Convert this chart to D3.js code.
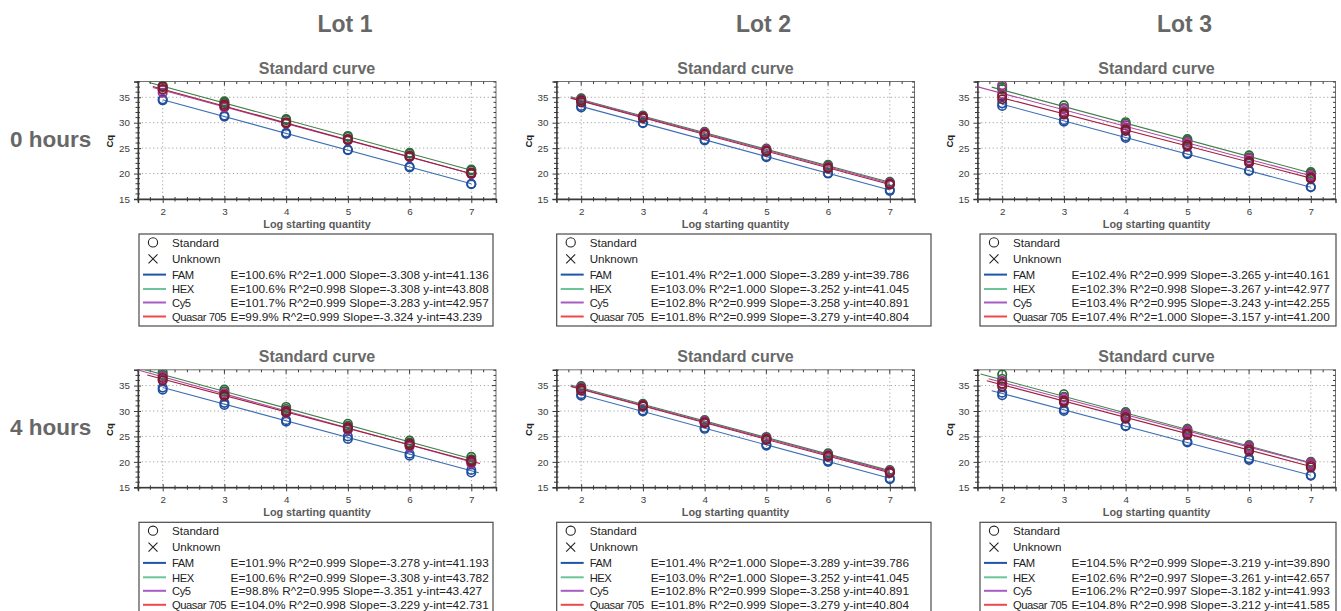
<!DOCTYPE html>
<html><head><meta charset="utf-8">
<script src="https://cdn.jsdelivr.net/npm/d3@7"></script>
<style>
html,body{margin:0;padding:0;background:#fff;}
svg{display:block;font-family:"Liberation Sans",Arial,sans-serif;}
</style></head>
<body>
<svg id="chart" width="1341" height="611"></svg>
<script>
// ---------- DATA ----------
const lots = ["Lot 1", "Lot 2", "Lot 3"];
const timepoints = ["0 hours", "4 hours"];
const dyes = ["FAM", "HEX", "Cy5", "Quasar 705"];
const logQty = [2, 3, 4, 5, 6, 7];
const xTicks = [2, 3, 4, 5, 6, 7];
const yTicks = [15, 20, 25, 30, 35];
// panel order: 0h Lot1, 0h Lot2, 0h Lot3, 4h Lot1, 4h Lot2, 4h Lot3
const efficiency = [
  ["100.6", "100.6", "101.7", "99.9"],
  ["101.4", "103.0", "102.8", "101.8"],
  ["102.4", "102.3", "103.4", "107.4"],
  ["101.9", "100.6", "98.8", "104.0"],
  ["101.4", "103.0", "102.8", "101.8"],
  ["104.5", "102.6", "106.2", "104.8"]
];
const rSquared = [
  ["1.000", "0.998", "0.999", "0.999"],
  ["1.000", "1.000", "0.999", "0.999"],
  ["0.999", "0.998", "0.995", "1.000"],
  ["0.999", "0.999", "0.995", "0.998"],
  ["1.000", "1.000", "0.999", "0.999"],
  ["0.999", "0.997", "0.997", "0.998"]
];
const slopes = [
  [-3.308, -3.308, -3.283, -3.324],
  [-3.289, -3.252, -3.258, -3.279],
  [-3.265, -3.267, -3.243, -3.157],
  [-3.278, -3.308, -3.351, -3.229],
  [-3.289, -3.252, -3.258, -3.279],
  [-3.219, -3.261, -3.182, -3.212]
];
const intercepts = [
  [41.136, 43.808, 42.957, 43.239],
  [39.786, 41.045, 40.891, 40.804],
  [40.161, 42.977, 42.255, 41.200],
  [41.193, 43.782, 43.427, 42.731],
  [39.786, 41.045, 40.891, 40.804],
  [39.890, 42.657, 41.993, 41.585]
];
// x-range over which each fitted line is drawn
const fitFrom = [
  [2, 1.78, 1.84, 1.84],
  [2, 1.83, 1.83, 1.83],
  [2, 1.83, 1.58, 2],
  [2, 1.6, 1.6, 1.75],
  [2, 1.83, 1.83, 1.83],
  [1.83, 1.65, 1.78, 1.75]
];
const fitTo = [
  [7, 7, 7, 7],
  [7, 7, 7, 7],
  [7, 7, 7, 7],
  [7.12, 7.06, 7.06, 7.14],
  [7, 7, 7, 7],
  [7, 7, 7, 7]
];
// Cq replicates of the standards, [panel][log quantity][replicate]
const cqFAM = [
  [[34.4, 34.6], [31.2, 31.4], [27.8, 28.0], [24.6, 24.7], [21.2, 21.4], [17.9, 18.0]],
  [[33.0, 33.3], [29.9, 30.0], [26.5, 26.7], [23.2, 23.4], [20.0, 20.1], [16.6, 16.8]],
  [[33.3, 33.8], [30.2, 30.5], [27.0, 27.3], [23.8, 24.0], [20.5, 20.6], [17.3, 17.4]],
  [[34.2, 34.6], [31.2, 31.6], [27.9, 28.2], [24.5, 25.0], [21.2, 21.6], [17.9, 18.4]],
  [[33.0, 33.3], [29.9, 30.1], [26.5, 26.7], [23.2, 23.4], [20.0, 20.2], [16.6, 16.8]],
  [[33.1, 33.6], [30.0, 30.3], [27.0, 27.1], [23.8, 24.0], [20.4, 20.7], [17.3, 17.4]]
];
const cqHEX = [
  [[37.0, 37.3], [33.9, 34.2], [30.5, 30.7], [27.2, 27.4], [23.9, 24.1], [20.6, 20.8]],
  [[34.6, 34.8], [31.2, 31.4], [28.0, 28.2], [24.7, 24.9], [21.5, 21.7], [18.2, 18.4]],
  [[36.6, 37.0], [32.9, 33.4], [29.8, 30.1], [26.5, 26.8], [23.2, 23.6], [20.0, 20.3]],
  [[37.1, 37.6], [33.8, 34.2], [30.4, 30.8], [27.1, 27.5], [23.8, 24.2], [20.5, 21.0]],
  [[34.6, 34.9], [31.2, 31.4], [28.0, 28.2], [24.7, 24.9], [21.5, 21.7], [18.2, 18.4]],
  [[36.3, 37.2], [32.8, 33.3], [29.4, 29.8], [26.2, 26.5], [23.0, 23.3], [19.7, 20.0]]
];
const cqCy5 = [
  [[35.9, 36.4], [33.0, 33.2], [29.8, 30.0], [26.5, 26.7], [23.2, 23.4], [19.9, 20.1]],
  [[34.2, 34.5], [31.0, 31.2], [27.8, 28.0], [24.5, 24.7], [21.2, 21.4], [18.0, 18.2]],
  [[35.6, 37.4], [32.2, 32.7], [29.0, 29.5], [25.8, 26.2], [22.6, 23.0], [19.4, 19.7]],
  [[36.2, 36.8], [33.0, 33.5], [29.6, 30.1], [26.3, 26.8], [23.0, 23.4], [19.7, 20.1]],
  [[34.2, 34.6], [31.0, 31.2], [27.8, 28.0], [24.5, 24.7], [21.2, 21.4], [18.0, 18.2]],
  [[35.3, 35.9], [32.2, 32.6], [29.1, 29.4], [25.9, 26.2], [22.7, 23.0], [19.5, 19.8]]
];
const cqQuasar = [
  [[36.6, 37.1], [33.3, 33.6], [29.9, 30.1], [26.6, 26.8], [23.3, 23.5], [20.0, 20.2]],
  [[34.0, 34.4], [30.9, 31.1], [27.6, 27.8], [24.3, 24.5], [21.0, 21.2], [17.8, 18.0]],
  [[34.6, 35.2], [31.6, 31.9], [28.4, 28.7], [25.3, 25.6], [22.1, 22.4], [19.0, 19.2]],
  [[36.0, 36.5], [32.9, 33.2], [29.7, 30.0], [26.5, 26.8], [23.3, 23.6], [20.0, 20.3]],
  [[34.0, 34.4], [30.9, 31.1], [27.6, 27.8], [24.3, 24.5], [21.0, 21.2], [17.8, 18.0]],
  [[34.8, 35.4], [31.7, 32.0], [28.5, 28.8], [25.3, 25.6], [22.1, 22.4], [18.9, 19.2]]
];
const cqByDye = [cqFAM, cqHEX, cqCy5, cqQuasar];

// ---------- STYLE ----------
const lineColors = ["#3d6fb4", "#3f8048", "#b044a2", "#a02040"];
const markerColors = ["#1f4f9e", "#2c6a3a", "#a0308f", "#7e1a30"];
const legendColors = ["#1d56a6", "#6cc59a", "#a65cc4", "#f04848"];

const colLeft = [138, 556.5, 977.5];
const plotW = 358;
const rowTop = [81.5, 369.8];
const plotH = 117.5;
const legLeft = [139, 556.7, 980];
const legRight = [493, 931, 1336];
const statsOff = [91.5, 94, 91.5];
const legRows = [8.4, 24.9, 40.6, 55, 68.5, 82.5];

const svg = d3.select("#chart");
const font = '"Liberation Sans", Arial, sans-serif';

// Lot headers
lots.forEach((lot, c) => {
  svg.append("text").attr("x", colLeft[c] + plotW / 2 + 28).attr("y", 31.5)
    .attr("text-anchor", "middle").attr("font-size", 23).attr("font-weight", "bold")
    .attr("fill", "#676767").text(lot);
});
// Row labels
timepoints.forEach((t, r) => {
  svg.append("text").attr("x", 10).attr("y", rowTop[r] + 65.2)
    .attr("font-size", 22.5).attr("font-weight", "bold").attr("fill", "#676767").text(t);
});

const defs = svg.append("defs");

timepoints.forEach((tp, r) => {
  lots.forEach((lot, c) => {
    const p = r * 3 + c;
    const x0 = colLeft[c], y0 = rowTop[r];
    const x = d3.scaleLinear().domain([1.6, 7.4]).range([x0, x0 + plotW]);
    const y = d3.scaleLinear().domain([15, 38.1]).range([y0 + plotH, y0]);
    const g = svg.append("g");

    // title
    g.append("text").attr("x", x0 + plotW / 2).attr("y", y0 - 7.5)
      .attr("text-anchor", "middle").attr("font-size", 16).attr("font-weight", "bold")
      .attr("fill", "#696969").text("Standard curve");

    // grid
    const grid = g.append("g").attr("stroke", "#9a9a9a").attr("stroke-width", 0.9)
      .attr("stroke-dasharray", "1.2,2.6");
    xTicks.forEach(v => grid.append("line").attr("x1", x(v)).attr("x2", x(v))
      .attr("y1", y0).attr("y2", y0 + plotH));
    yTicks.filter(v => v > 15).forEach(v => grid.append("line").attr("y1", y(v)).attr("y2", y(v))
      .attr("x1", x0).attr("x2", x0 + plotW));

    // frame
    g.append("rect").attr("x", x0).attr("y", y0).attr("width", plotW).attr("height", plotH)
      .attr("fill", "none").attr("stroke", "#707070").attr("stroke-width", 1);

    // axes (bottom & left) with major/minor ticks
    const xAxis = d3.axisBottom(x).tickValues(xTicks).tickSize(4).tickPadding(5)
      .tickFormat(d3.format("d"));
    const gx = g.append("g").attr("transform", `translate(0,${y0 + plotH})`).call(xAxis);
    const yAxis = d3.axisLeft(y).tickValues(yTicks).tickSize(4).tickPadding(4);
    const gy = g.append("g").attr("transform", `translate(${x0},0)`).call(yAxis);
    [gx, gy].forEach(ax => {
      ax.select(".domain").attr("stroke", "#3a3a3a").attr("stroke-width", 1.4);
      ax.selectAll(".tick line").attr("stroke", "#3a3a3a").attr("stroke-width", 1);
      ax.selectAll(".tick text").attr("font-family", font).attr("font-size", 9.8).attr("fill", "#3c3c3c");
    });
    gx.selectAll(".tick line").attr("y1", -3);
    gy.selectAll(".tick line").attr("x1", 3);
    const minorX = d3.range(16, 74, 2).map(v => v / 10).filter(v => !Number.isInteger(v));
    const minorY = d3.range(15, 39, 1).filter(v => v % 5 !== 0);
    const tk = g.append("g").attr("stroke", "#3a3a3a").attr("stroke-width", 1);
    minorX.forEach(v => {
      tk.append("line").attr("x1", x(v)).attr("x2", x(v)).attr("y1", y0 + plotH - 2).attr("y2", y0 + plotH + 2.5);
      tk.append("line").attr("x1", x(v)).attr("x2", x(v)).attr("y1", y0).attr("y2", y0 + 2.5);
    });
    xTicks.forEach(v => tk.append("line").attr("x1", x(v)).attr("x2", x(v)).attr("y1", y0).attr("y2", y0 + 4));
    minorY.forEach(v => {
      tk.append("line").attr("y1", y(v)).attr("y2", y(v)).attr("x1", x0 - 2.5).attr("x2", x0 + 2);
      tk.append("line").attr("y1", y(v)).attr("y2", y(v)).attr("x1", x0 + plotW - 2.5).attr("x2", x0 + plotW);
    });
    yTicks.forEach(v => tk.append("line").attr("y1", y(v)).attr("y2", y(v))
      .attr("x1", x0 + plotW - 4).attr("x2", x0 + plotW));

    // axis labels
    g.append("text").attr("x", x0 + plotW / 2).attr("y", y0 + plotH + 28.5)
      .attr("text-anchor", "middle").attr("font-size", 10.8).attr("font-weight", "bold")
      .attr("fill", "#5a5a5a").text("Log starting quantity");
    g.append("text").attr("transform", `translate(${x0 - 25},${y0 + plotH / 2 + 1}) rotate(-90)`)
      .attr("text-anchor", "middle").attr("font-size", 9.5).attr("font-weight", "bold")
      .attr("fill", "#222").text("Cq");

    // clip
    const cid = "clip" + p;
    defs.append("clipPath").attr("id", cid).append("rect")
      .attr("x", x0).attr("y", y0).attr("width", plotW).attr("height", plotH);
    const plot = g.append("g").attr("clip-path", `url(#${cid})`);

    // fitted lines
    dyes.forEach((d, k) => {
      const pts = [fitFrom[p][k], fitTo[p][k]].map(xv => [xv, intercepts[p][k] + slopes[p][k] * xv]);
      plot.append("path").attr("d", d3.line().x(q => x(q[0])).y(q => y(q[1]))(pts))
        .attr("stroke", lineColors[k]).attr("stroke-width", 1.1).attr("fill", "none");
    });
    // standards
    dyes.forEach((d, k) => {
      cqByDye[k][p].forEach((reps, i) => {
        reps.forEach(v => {
          plot.append("circle").attr("cx", x(logQty[i])).attr("cy", y(v)).attr("r", 4.2)
            .attr("fill", "none").attr("stroke", markerColors[k]).attr("stroke-width", 1.7);
        });
      });
    });

    // legend
    const lx = legLeft[c], lr = legRight[c];
    const ly = y0 + plotH + 35;
    const lg = g.append("g");
    lg.append("rect").attr("x", lx).attr("y", ly).attr("width", lr - lx).attr("height", 92)
      .attr("fill", "none").attr("stroke", "#4a4a4a").attr("stroke-width", 1.2);
    lg.append("circle").attr("cx", lx + 14).attr("cy", ly + legRows[0]).attr("r", 4.6)
      .attr("fill", "none").attr("stroke", "#222").attr("stroke-width", 1.1);
    lg.append("path").attr("d", `M${lx + 9.5},${ly + legRows[1] - 4.5}L${lx + 18.5},${ly + legRows[1] + 4.5}M${lx + 18.5},${ly + legRows[1] - 4.5}L${lx + 9.5},${ly + legRows[1] + 4.5}`)
      .attr("stroke", "#222").attr("stroke-width", 1.1);
    ["Standard", "Unknown"].forEach((t, i) => {
      lg.append("text").attr("x", lx + 33).attr("y", ly + legRows[i] + 4.2)
        .attr("font-size", 11.6).attr("fill", "#222").text(t);
    });
    dyes.forEach((d, k) => {
      const yy = ly + legRows[k + 2];
      lg.append("line").attr("x1", lx + 4).attr("x2", lx + 27).attr("y1", yy).attr("y2", yy)
        .attr("stroke", legendColors[k]).attr("stroke-width", 2);
      lg.append("text").attr("x", lx + 33).attr("y", yy + 4.2).attr("font-size", 11.2)
        .attr("letter-spacing", -0.45).attr("fill", "#222").text(d);
      lg.append("text").attr("x", lx + statsOff[c]).attr("y", yy + 4.2).attr("font-size", 11.8)
        .attr("letter-spacing", 0.02).attr("fill", "#222")
        .text(`E=${efficiency[p][k]}% R^2=${rSquared[p][k]} Slope=${slopes[p][k].toFixed(3)} y-int=${intercepts[p][k].toFixed(3)}`);
    });
  });
});
</script>
</body></html>
